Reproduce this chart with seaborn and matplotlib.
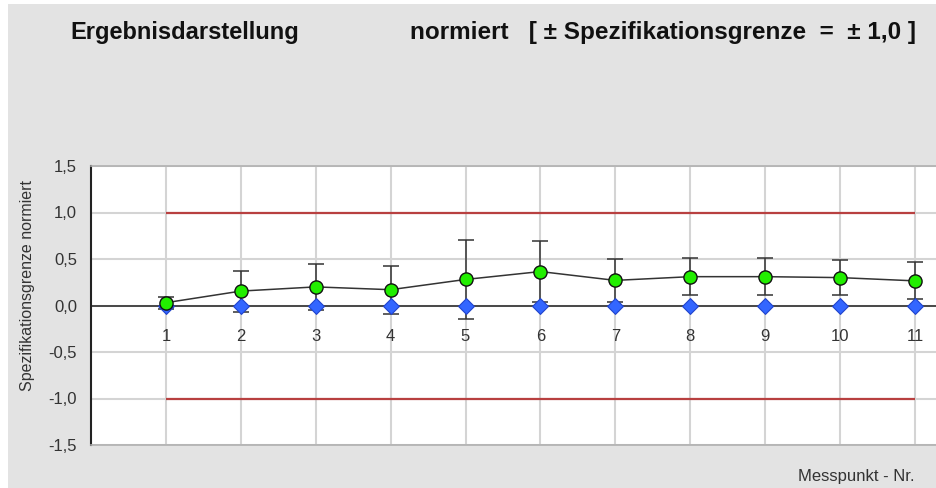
import numpy as np
import pandas as pd
import seaborn as sns
import matplotlib.pyplot as plt
from matplotlib.patches import Rectangle

# ===== data =====
messpunkt = [1, 2, 3, 4, 5, 6, 7, 8, 9, 10, 11]
mittelwert = [0.03, 0.155, 0.20, 0.17, 0.28, 0.365, 0.27, 0.31, 0.31, 0.30, 0.265]
streuung = [0.065, 0.22, 0.25, 0.26, 0.42, 0.33, 0.23, 0.20, 0.20, 0.19, 0.20]
referenz = [0, 0, 0, 0, 0, 0, 0, 0, 0, 0, 0]
grenze_oben = 1.0
grenze_unten = -1.0
y_ticks = [-1.5, -1.0, -0.5, 0.0, 0.5, 1.0, 1.5]

df = pd.DataFrame({"nr": messpunkt, "mw": mittelwert, "sd": streuung, "ref": referenz})

sns.set_style("white")
plt.rcParams["font.family"] = ["Liberation Sans", "DejaVu Sans"]

fig = plt.figure(figsize=(9.36, 4.88), dpi=100)
fig.patch.set_facecolor("white")
fig.patches.append(Rectangle((8 / 936, 0), 1, 1 - 4 / 488, transform=fig.transFigure,
                             facecolor="#e3e3e3", edgecolor="none", zorder=-10))

ax = fig.add_axes([91 / 936, 43 / 488, 845 / 936, 279 / 488])
ax.set_facecolor("white")

# grid
for x in messpunkt:
    ax.axvline(x, color="#d4d4d4", lw=1.5, zorder=0)
for y in y_ticks:
    ax.axhline(y, color="#d4d4d4", lw=1.5, zorder=0)

# spec limits
ax.hlines([grenze_oben, grenze_unten], messpunkt[0], messpunkt[-1], color="#b84040", lw=1.6, zorder=1)
ax.axhline(0, color="#222222", lw=1.1, zorder=2)

# error bars
ax.errorbar(df["nr"], df["mw"], yerr=df["sd"], fmt="none", ecolor="#333333",
            elinewidth=1.1, capsize=6, capthick=1.1, zorder=3)

sns.lineplot(data=df, x="nr", y="mw", color="#333333", lw=1.1, ax=ax, zorder=3)
sns.scatterplot(data=df, x="nr", y="ref", marker="D", s=65, color="#3366ff",
                edgecolor="#2244cc", linewidth=0.8, ax=ax, zorder=4)
sns.scatterplot(data=df, x="nr", y="mw", marker="o", s=90, color="#22ee00",
                edgecolor="#111111", linewidth=1.0, ax=ax, zorder=5)

ax.set_xlim(0, 845 / 74.9)
ax.set_ylim(-1.5, 1.5)
ax.set_yticks(y_ticks)
ax.set_yticklabels([f"{v:.1f}".replace(".", ",") for v in y_ticks], fontsize=12, color="#333333")
ax.set_xticks([])

for x in messpunkt:
    ax.text(x, -0.33, str(x), ha="center", va="center", fontsize=12, color="#333333")

ax.tick_params(axis="y", direction="out", length=5, width=1.2, color="#222222", pad=5)

for s in ["top", "bottom"]:
    ax.spines[s].set_color("#b0b0b0")
    ax.spines[s].set_linewidth(1.2)
ax.spines["right"].set_visible(False)
ax.spines["left"].set_color("#222222")
ax.spines["left"].set_linewidth(1.5)

ax.set_xlabel("")
ax.set_ylabel("Spezifikationsgrenze normiert", fontsize=11.5, color="#333333")
ax.yaxis.set_label_coords(-0.066, 0.57)

fig.text(70 / 936, 1 - 32 / 488, "Ergebnisdarstellung", fontsize=17, fontweight="bold",
         ha="left", va="center", color="#111111")
fig.text(410 / 936, 1 - 32 / 488, "normiert   [ ± Spezifikationsgrenze  =  ± 1,0 ]", fontsize=17.5,
         fontweight="bold", ha="left", va="center", color="#111111")
fig.text(915 / 936, 1 - 477 / 488, "Messpunkt - Nr.", fontsize=12, ha="right", va="center",
         color="#333333")

fig.savefig("out.png", dpi=100)
